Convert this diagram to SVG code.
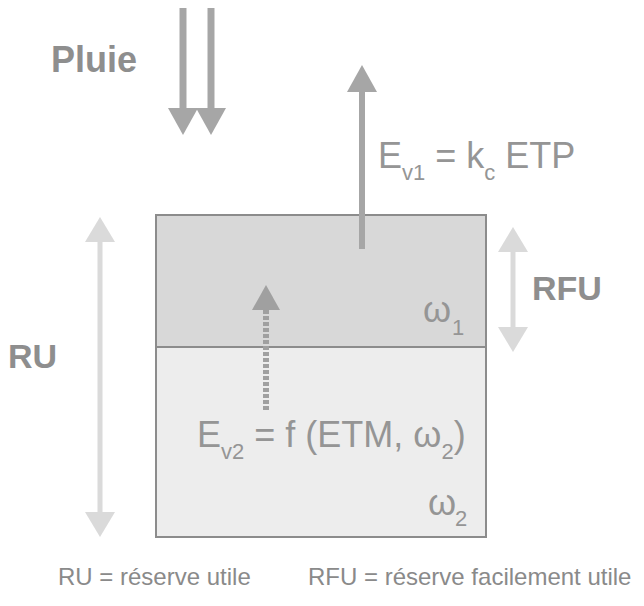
<svg xmlns="http://www.w3.org/2000/svg" width="644" height="606" viewBox="0 0 644 606">
<style>
  text { font-family: "Liberation Sans", Arial, sans-serif; }
  .bold { font-weight: bold; fill: #8e8e8e; font-size: 34px; }
  .eq { fill: #959595; font-size: 36px; }
  .sub { font-size: 22px; }
  .legend { fill: #8a8a8a; font-size: 24px; }
  .dark { fill: #a6a6a6; }
  .darkline { stroke: #a6a6a6; fill: none; }
  .light { fill: #dadada; }
  .lightline { stroke: #dadada; fill: none; }
</style>
<rect width="644" height="606" fill="#ffffff"/>
<g id="soil">
  <rect id="layer1" x="156" y="215" width="330" height="132" fill="#d8d8d8" stroke="#8c8c8c" stroke-width="2"/>
  <rect id="layer2" x="156" y="347" width="330" height="190" fill="#ededed" stroke="#8c8c8c" stroke-width="2"/>
  <text class="eq" x="423" y="322">ω<tspan class="sub" x="452" y="335">1</tspan></text>
  <text class="eq" x="428" y="515">ω<tspan class="sub" x="455" y="526">2</tspan></text>
</g>
<g id="connectors">
  <!-- rain -->
  <line class="darkline" x1="183" y1="8" x2="183" y2="110" stroke-width="7"/>
  <line class="darkline" x1="211" y1="8" x2="211" y2="110" stroke-width="7"/>
  <polygon class="dark" points="168,108 198,108 183,135"/>
  <polygon class="dark" points="196,108 226,108 211,135"/>
  <!-- evaporation 1 -->
  <line class="darkline" x1="362" y1="90" x2="362" y2="249" stroke-width="6"/>
  <polygon class="dark" points="347,92 377,92 362,65"/>
  <!-- evaporation 2 (dotted) -->
  <line x1="266" y1="410" x2="266" y2="310" stroke="#a0a0a0" stroke-width="6" stroke-dasharray="4,2"/>
  <polygon fill="#a0a0a0" points="252,310 280,310 266,285"/>
  <!-- RU -->
  <line class="lightline" x1="100" y1="240" x2="100" y2="514" stroke-width="5"/>
  <polygon class="light" points="85,242 115,242 100,217"/>
  <polygon class="light" points="85,512 115,512 100,537"/>
  <!-- RFU -->
  <line class="lightline" x1="513" y1="250" x2="513" y2="329" stroke-width="5"/>
  <polygon class="light" points="498,252 528,252 513,227"/>
  <polygon class="light" points="498,327 528,327 513,352"/>
</g>
<g id="pluie"><text class="bold" x="51" y="72" style="font-size:36px">Pluie</text></g>
<g id="ev1"><text class="eq" x="378" y="168">E<tspan class="sub" y="180">v1</tspan><tspan y="168"> = k</tspan><tspan class="sub" y="180">c</tspan><tspan y="168"> ETP</tspan></text></g>
<g id="ev2"><text class="eq" x="197" y="447">E<tspan class="sub" y="459">v2</tspan><tspan y="447"> = f (ETM, ω</tspan><tspan class="sub" y="459">2</tspan><tspan y="447">)</tspan></text></g>
<g id="ru"><text class="bold" x="8" y="368">RU</text></g>
<g id="rfu"><text class="bold" x="532" y="300">RFU</text></g>
<g id="legend">
  <text class="legend" x="58" y="585">RU = réserve utile</text>
  <text class="legend" x="308" y="585">RFU = réserve facilement utile</text>
</g>
</svg>
